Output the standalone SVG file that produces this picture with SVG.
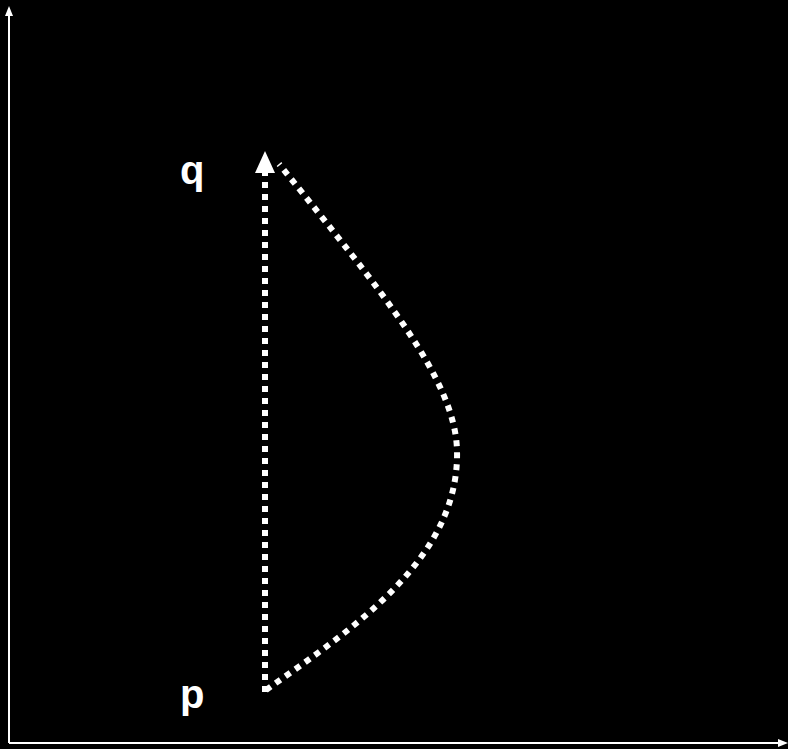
<svg xmlns="http://www.w3.org/2000/svg" width="788" height="749" viewBox="0 0 788 749">
<style>
.axis{stroke:#fff;stroke-width:2;fill:none}
.dash{stroke:#fff;stroke-width:6;fill:none;stroke-dasharray:6 6}
.lbl{font-family:"Liberation Sans",Arial,sans-serif;font-weight:bold;font-size:40px;fill:#fff}
</style>
<rect width="788" height="749" fill="#000"/>
<g id="axes">
<path class="axis" d="M9,743 L9,12"/>
<path d="M9,6 L13,16 L5,16 z" fill="#fff"/>
<path class="axis" d="M9,743 L780,743"/>
<path d="M788,743 L778,739 L778,747 z" fill="#fff"/>
</g>
<g id="connectors">
<path class="dash" d="M265,692 L265,172"/>
<path d="M265,151 L275,173 L255,173 z" fill="#fff"/>
<path class="dash" d="M266,690 C350,630 460,560 457,450 C455,380 385,295 279,164"/>
</g>
<g id="q"><text class="lbl" x="180" y="184">q</text></g>
<g id="p"><text class="lbl" x="180" y="708">p</text></g>
</svg>
